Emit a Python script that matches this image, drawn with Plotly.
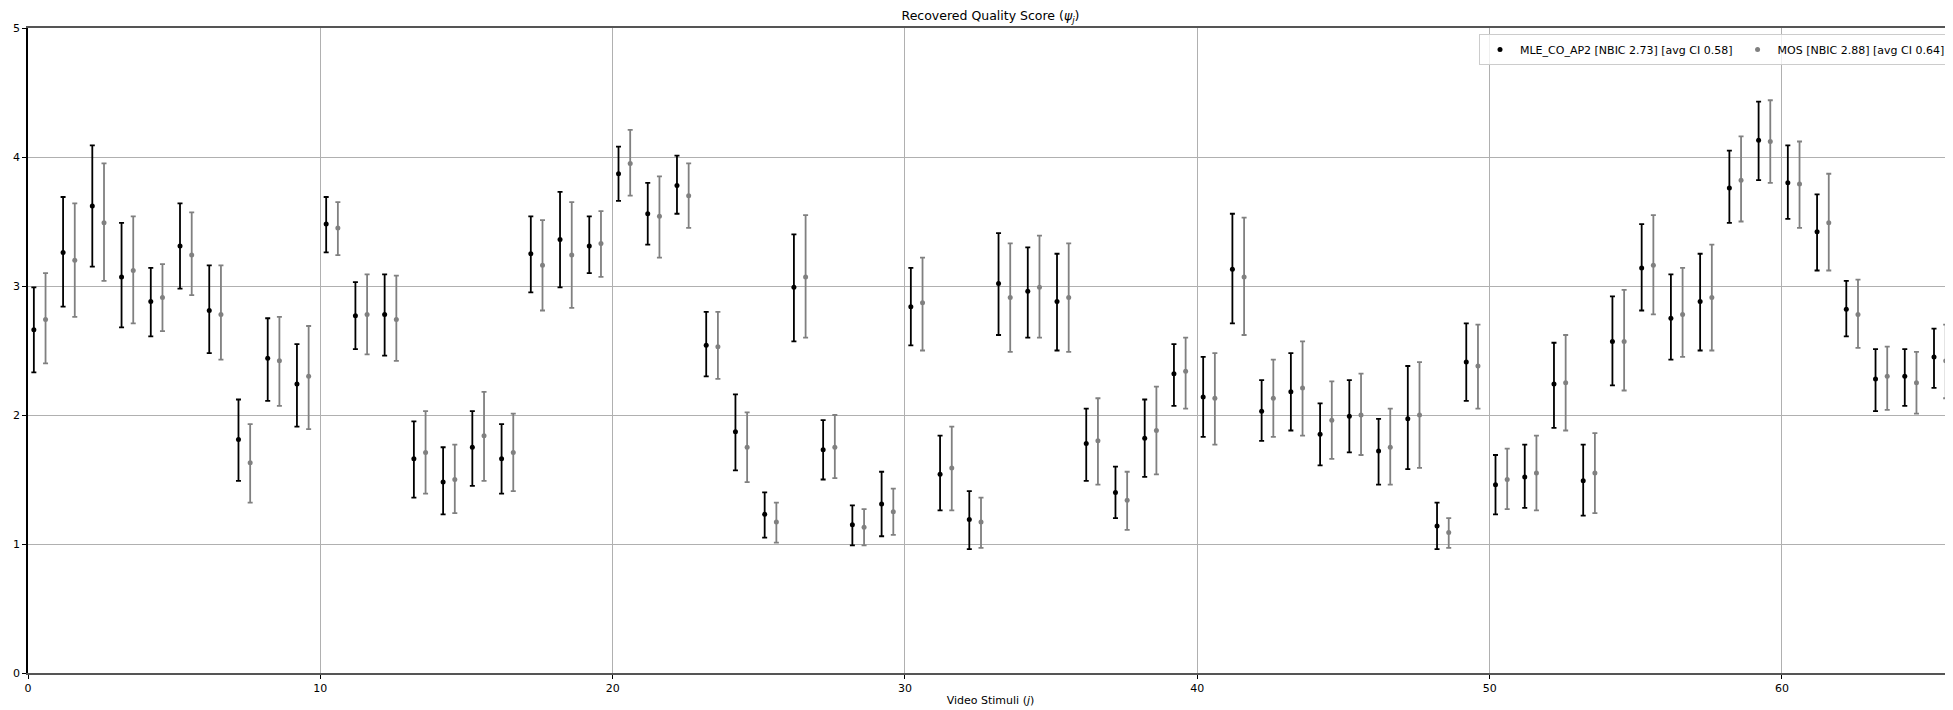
import plotly.graph_objects as go

# Stimulus index j
stimuli = list(range(66))

# MLE_CO_AP2 estimates: mean, lower CI, upper CI
mle_mean = [2.66, 3.26, 3.62, 3.07, 2.88, 3.31, 2.81, 1.81, 2.44, 2.24,
            3.48, 2.77, 2.78, 1.66, 1.48, 1.75, 1.66, 3.25, 3.36, 3.31,
            3.87, 3.56, 3.78, 2.54, 1.87, 1.23, 2.99, 1.73, 1.15, 1.31,
            2.84, 1.54, 1.19, 3.02, 2.96, 2.88, 1.78, 1.40, 1.82, 2.32,
            2.14, 3.13, 2.03, 2.18, 1.85, 1.99, 1.72, 1.97, 1.14, 2.41,
            1.46, 1.52, 2.24, 1.49, 2.57, 3.14, 2.75, 2.88, 3.76, 4.13,
            3.80, 3.42, 2.82, 2.28, 2.30, 2.45]
mle_low = [2.33, 2.84, 3.15, 2.68, 2.61, 2.98, 2.48, 1.49, 2.11, 1.91,
           3.26, 2.51, 2.46, 1.36, 1.23, 1.45, 1.39, 2.95, 2.99, 3.10,
           3.66, 3.32, 3.56, 2.30, 1.57, 1.05, 2.57, 1.50, 0.99, 1.06,
           2.54, 1.26, 0.96, 2.62, 2.60, 2.50, 1.49, 1.20, 1.52, 2.07,
           1.83, 2.71, 1.80, 1.88, 1.61, 1.71, 1.46, 1.58, 0.96, 2.11,
           1.23, 1.28, 1.90, 1.22, 2.23, 2.81, 2.43, 2.50, 3.49, 3.82,
           3.52, 3.12, 2.61, 2.03, 2.07, 2.21]
mle_high = [2.99, 3.69, 4.09, 3.49, 3.14, 3.64, 3.16, 2.12, 2.75, 2.55,
            3.69, 3.03, 3.09, 1.95, 1.75, 2.03, 1.93, 3.54, 3.73, 3.54,
            4.08, 3.80, 4.01, 2.80, 2.16, 1.40, 3.40, 1.96, 1.30, 1.56,
            3.14, 1.84, 1.41, 3.41, 3.30, 3.25, 2.05, 1.60, 2.12, 2.55,
            2.45, 3.56, 2.27, 2.48, 2.09, 2.27, 1.97, 2.38, 1.32, 2.71,
            1.69, 1.77, 2.56, 1.77, 2.92, 3.48, 3.09, 3.25, 4.05, 4.43,
            4.09, 3.71, 3.04, 2.51, 2.51, 2.67]

# MOS estimates: mean, lower CI, upper CI
mos_mean = [2.74, 3.20, 3.49, 3.12, 2.91, 3.24, 2.78, 1.63, 2.42, 2.30,
            3.45, 2.78, 2.74, 1.71, 1.50, 1.84, 1.71, 3.16, 3.24, 3.33,
            3.95, 3.54, 3.70, 2.53, 1.75, 1.17, 3.07, 1.75, 1.13, 1.25,
            2.87, 1.59, 1.17, 2.91, 2.99, 2.91, 1.80, 1.34, 1.88, 2.34,
            2.13, 3.07, 2.13, 2.21, 1.96, 2.00, 1.75, 2.00, 1.09, 2.38,
            1.50, 1.55, 2.25, 1.55, 2.57, 3.16, 2.78, 2.91, 3.82, 4.12,
            3.79, 3.49, 2.78, 2.30, 2.25, 2.42]
mos_low = [2.40, 2.76, 3.04, 2.71, 2.65, 2.93, 2.43, 1.32, 2.07, 1.89,
           3.24, 2.47, 2.42, 1.39, 1.24, 1.49, 1.41, 2.81, 2.83, 3.07,
           3.70, 3.22, 3.45, 2.28, 1.48, 1.01, 2.60, 1.51, 0.99, 1.07,
           2.50, 1.26, 0.97, 2.49, 2.60, 2.49, 1.46, 1.11, 1.54, 2.05,
           1.77, 2.62, 1.83, 1.84, 1.66, 1.69, 1.46, 1.59, 0.97, 2.05,
           1.27, 1.26, 1.88, 1.24, 2.19, 2.78, 2.45, 2.50, 3.50, 3.80,
           3.45, 3.12, 2.52, 2.04, 2.01, 2.13]
mos_high = [3.10, 3.64, 3.95, 3.54, 3.17, 3.57, 3.16, 1.93, 2.76, 2.69,
            3.65, 3.09, 3.08, 2.03, 1.77, 2.18, 2.01, 3.51, 3.65, 3.58,
            4.21, 3.85, 3.95, 2.80, 2.02, 1.32, 3.55, 2.00, 1.27, 1.43,
            3.22, 1.91, 1.36, 3.33, 3.39, 3.33, 2.13, 1.56, 2.22, 2.60,
            2.48, 3.53, 2.43, 2.57, 2.26, 2.32, 2.05, 2.41, 1.20, 2.70,
            1.74, 1.84, 2.62, 1.86, 2.97, 3.55, 3.14, 3.32, 4.16, 4.44,
            4.12, 3.87, 3.05, 2.53, 2.49, 2.70]

mle_label = "MLE_CO_AP2 [NBIC 2.73] [avg CI 0.58]"
mos_label = "MOS [NBIC 2.88] [avg CI 0.64]"
x_ticks = [0, 10, 20, 30, 40, 50, 60]
y_ticks = [0, 1, 2, 3, 4, 5]

fig = go.Figure()


def add_series(offset, mean, low, high, color, name):
    fig.add_trace(go.Scatter(
        x=[j + offset for j in stimuli],
        y=mean,
        mode="markers",
        name=name,
        marker=dict(color=color, size=5),
        error_y=dict(
            type="data",
            symmetric=False,
            array=[h - m for h, m in zip(high, mean)],
            arrayminus=[m - l for m, l in zip(mean, low)],
            color=color,
            thickness=1.8,
            width=2.5,
        ),
    ))


add_series(0.2, mle_mean, mle_low, mle_high, "black", mle_label)
add_series(0.6, mos_mean, mos_low, mos_high, "#808080", mos_label)

# The page body has an 8px margin, so the figure is sized to fill the window
PAGE_OFF = 8
W, H = 1953 - PAGE_OFF, 710 - PAGE_OFF
ML, MT, MB = 28 - PAGE_OFF, 28 - PAGE_OFF, 37
PW = W - ML
PH = H - MT - MB
font_family = "DejaVu Sans"
fig.update_layout(
    width=W,
    height=H,
    margin=dict(l=ML, r=0, t=MT, b=MB, autoexpand=False),
    plot_bgcolor="white",
    paper_bgcolor="white",
    font=dict(family=font_family, size=11, color="black"),
    title=dict(
        text="Recovered Quality Score (<i>ψ<sub>j</sub></i>)",
        x=(ML + W) / 2 / W,
        xanchor="center",
        xref="container",
        y=1 - 8 / H,
        yref="container",
        yanchor="middle",
        font=dict(family=font_family, size=12.5, color="black"),
    ),
    legend=dict(
        orientation="h",
        x=(1479 - 28) / PW,
        xanchor="left",
        y=1 - 6 / PH,
        yanchor="top",
        bgcolor="rgba(255,255,255,0.8)",
        bordercolor="#cccccc",
        borderwidth=1,
        font=dict(family=font_family, size=11, color="black"),
        itemwidth=30,
    ),
    showlegend=True,
)

fig.update_xaxes(
    range=[0, 65.85],
    tickvals=x_ticks,
    ticktext=[str(t) for t in x_ticks],
    showgrid=True,
    gridcolor="#b0b0b0",
    gridwidth=1,
    zeroline=False,
    showline=True,
    linecolor="#555555",
    linewidth=1.5,
    mirror=True,
    ticks="outside",
    ticklen=4,
    tickcolor="black",
    automargin=False,
    title=dict(text="Video Stimuli (<i>j</i>)", standoff=2,
               font=dict(family=font_family, size=11)),
)
fig.update_yaxes(
    range=[0, 5],
    tickvals=y_ticks,
    ticktext=[str(t) for t in y_ticks],
    showgrid=True,
    gridcolor="#b0b0b0",
    gridwidth=1,
    zeroline=False,
    showline=True,
    linecolor="black",
    linewidth=1.5,
    mirror=False,
    ticks="outside",
    ticklen=4,
    tickcolor="black",
    automargin=False,
)

fig.write_html("out.html")
